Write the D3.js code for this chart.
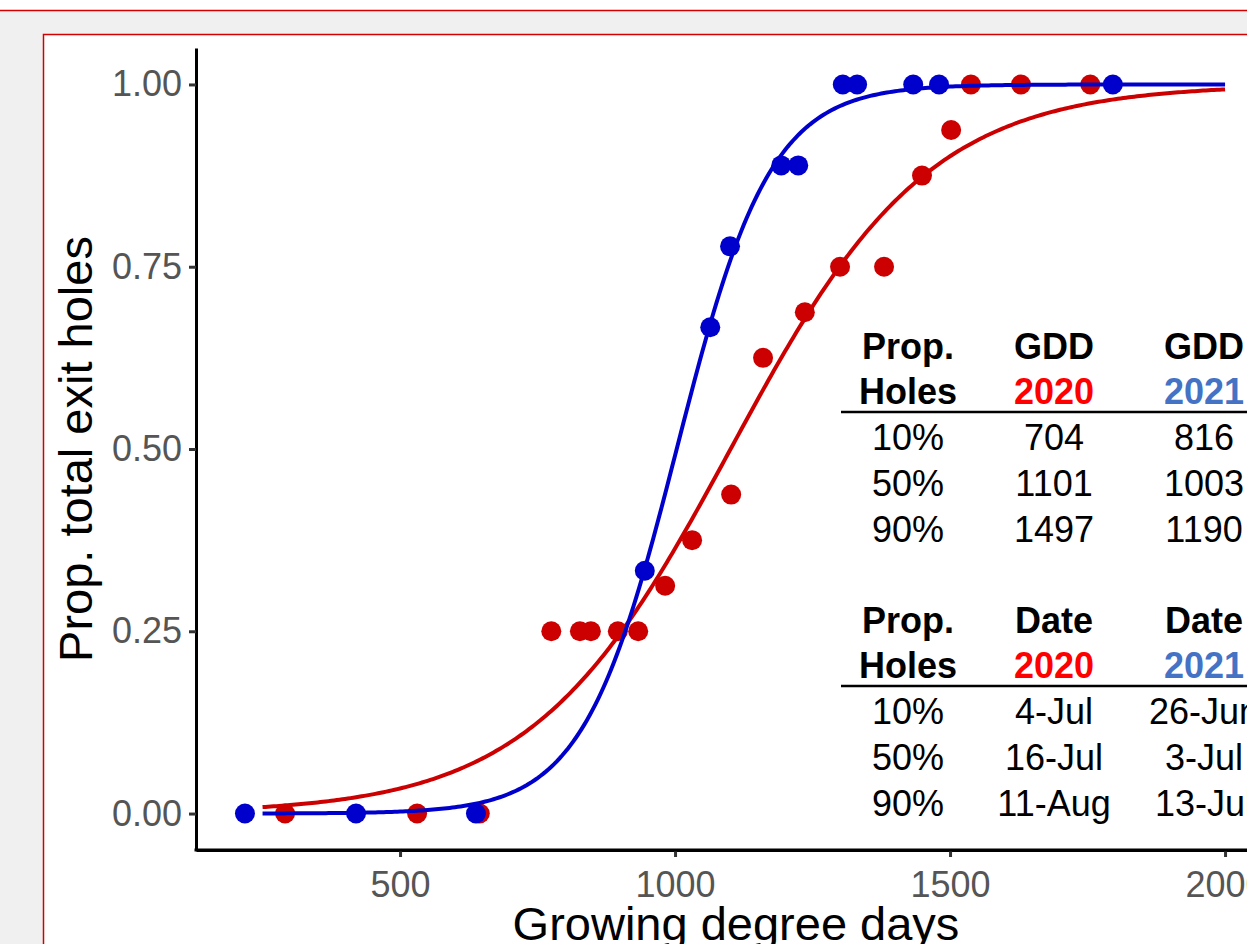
<!DOCTYPE html>
<html>
<head>
<meta charset="utf-8">
<script src="https://cdn.jsdelivr.net/npm/d3@7"></script>
<style>
  html, body { margin: 0; padding: 0; overflow: hidden; background: #f0f0f0; }
  svg { display: block; font-family: "Liberation Sans", Arial, sans-serif; }
</style>
</head>
<body>
<svg width="1247" height="944"></svg>
<script>
// observed proportions, 2020 (red) and 2021 (blue)
const gdd2020 = [291, 531, 645, 775, 827, 847, 896, 933, 982, 1031, 1102, 1160, 1236, 1300, 1380, 1449, 1502, 1538, 1629, 1755];
const prop2020 = [0, 0, 0, 0.25, 0.25, 0.25, 0.25, 0.25, 0.3125, 0.375, 0.4375, 0.625, 0.6875, 0.75, 0.75, 0.875, 0.9375, 1, 1, 1];
const gdd2021 = [218, 420, 638, 945, 1064, 1100, 1193, 1224, 1305, 1331, 1433, 1480, 1796];
const prop2021 = [0, 0, 0, 0.333, 0.667, 0.778, 0.889, 0.889, 1, 1, 1, 1, 1];

// table values (fitted logistic: 10/50/90 % points)
const propLabels = ['10%', '50%', '90%'];
const gddFit2020 = [704, 1101, 1497];
const gddFit2021 = [816, 1003, 1190];
const date2020 = ['4-Jul', '16-Jul', '11-Aug'];
const date2021 = ['26-Jun', '3-Jul', '13-Jul'];

const xTicks = [500, 1000, 1500, 2000];
const yTicks = [0, 0.25, 0.5, 0.75, 1];
const curveRange = [250, 2000];

const RED = '#cc0000', BLUE = '#0000cc';

const svg = d3.select('svg');

// page background + frame
svg.append('rect').attr('x', 0).attr('y', 0).attr('width', 1247).attr('height', 10).attr('fill', '#fff');
svg.append('line').attr('x1', 0).attr('x2', 1247).attr('y1', 10.5).attr('y2', 10.5)
  .attr('stroke', '#d40000').attr('stroke-width', 1.5);
svg.append('rect').attr('x', 43.5).attr('y', 34.5).attr('width', 1300).attr('height', 1000)
  .attr('fill', '#fff').attr('stroke', '#d40000').attr('stroke-width', 1.5);

const x = d3.scaleLinear().domain([129, 2090]).range([196, 196 + 1961 * 0.55]);
const y = d3.scaleLinear().domain([-0.05, 1.05]).range([850, 48]);

// logistic curve from the fitted 50% and 90% points
function logistic(ed50, ed90) {
  const s = (ed90 - ed50) / Math.log(9);
  return function(v) { return 1 / (1 + Math.exp(-(v - ed50) / s)); };
}
const fit2020 = logistic(gddFit2020[1], gddFit2020[2]);
const fit2021 = logistic(gddFit2021[1], gddFit2021[2]);
const grid = d3.range(curveRange[0], curveRange[1] + 1, 5);

const line = d3.line().x(d => x(d[0])).y(d => y(d[1]));

// axes
const xAxis = svg.append('g').attr('transform', 'translate(0,850)')
  .call(d3.axisBottom(x).tickValues(xTicks).tickFormat(d3.format('d')).tickSize(7).tickSizeOuter(0).tickPadding(14));
const yAxis = svg.append('g').attr('transform', 'translate(196,0)')
  .call(d3.axisLeft(y).tickValues(yTicks).tickFormat(d3.format('.2f')).tickSize(7).tickSizeOuter(0).tickPadding(7));
[xAxis, yAxis].forEach(function(a) {
  a.select('.domain').attr('stroke', '#000').attr('stroke-width', 3);
  a.selectAll('.tick line').attr('stroke', '#333').attr('stroke-width', 3);
  a.selectAll('.tick text').attr('fill', '#555').attr('font-size', 36)
    .attr('font-family', '"Liberation Sans", Arial, sans-serif');
});
// axis lines meet at the corner
svg.append('line').attr('x1', 194.5).attr('x2', 1247).attr('y1', 850).attr('y2', 850)
  .attr('stroke', '#000').attr('stroke-width', 3);

// points
svg.append('g').selectAll('circle').data(d3.zip(gdd2020, prop2020)).join('circle')
  .attr('cx', d => x(d[0])).attr('cy', d => y(d[1])).attr('r', 10).attr('fill', RED);
svg.append('g').selectAll('circle').data(d3.zip(gdd2021, prop2021)).join('circle')
  .attr('cx', d => x(d[0])).attr('cy', d => y(d[1])).attr('r', 10).attr('fill', BLUE);

// fitted curves
svg.append('path').datum(grid.map(v => [v, fit2020(v)])).attr('d', line)
  .attr('fill', 'none').attr('stroke', RED).attr('stroke-width', 4);
svg.append('path').datum(grid.map(v => [v, fit2021(v)])).attr('d', line)
  .attr('fill', 'none').attr('stroke', BLUE).attr('stroke-width', 4);

// axis titles
svg.append('text').attr('x', 736).attr('y', 940).attr('text-anchor', 'middle')
  .attr('font-size', 47).attr('fill', '#000').text('Growing degree days');
svg.append('text').attr('transform', 'translate(92,449) rotate(-90)').attr('text-anchor', 'middle')
  .attr('font-size', 47).attr('fill', '#000').text('Prop. total exit holes');

// tables
const colX = [908, 1054, 1204];
function table(top, head, col2, col3) {
  const g = svg.append('g').attr('font-size', 36).attr('text-anchor', 'middle');
  const heads = [['Prop.', 'Holes', '#000'], [head, '2020', '#ff0000'], [head, '2021', '#4472c4']];
  heads.forEach(function(h, i) {
    g.append('text').attr('x', colX[i]).attr('y', top).attr('font-weight', 'bold').text(h[0]);
    g.append('text').attr('x', colX[i]).attr('y', top + 45).attr('font-weight', 'bold')
      .attr('fill', h[2]).text(h[1]);
  });
  g.append('line').attr('x1', 841).attr('x2', 1260).attr('y1', top + 53).attr('y2', top + 53)
    .attr('stroke', '#000').attr('stroke-width', 2.5);
  propLabels.forEach(function(p, r) {
    const yy = top + 91 + r * 46;
    g.append('text').attr('x', colX[0]).attr('y', yy).text(p);
    g.append('text').attr('x', colX[1]).attr('y', yy).text(col2[r]);
    g.append('text').attr('x', colX[2]).attr('y', yy).text(col3[r]);
  });
}
table(359, 'GDD', gddFit2020, gddFit2021);
table(633, 'Date', date2020, date2021);
</script>
</body>
</html>
